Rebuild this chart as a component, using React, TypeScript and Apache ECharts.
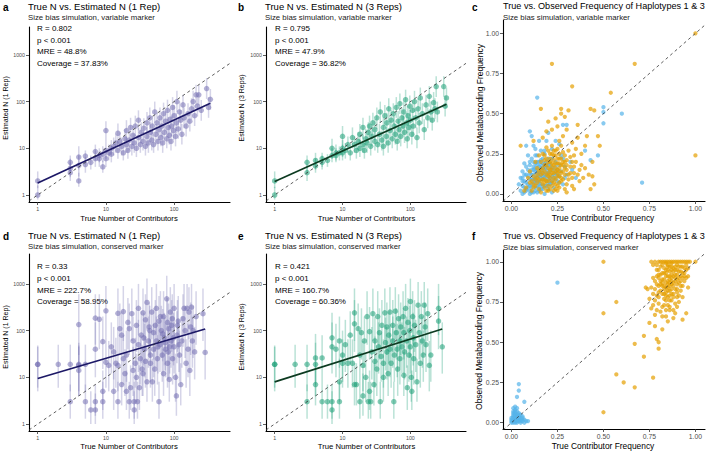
import React, { useEffect, useRef } from "react";
import * as echarts from "echarts";

const FONT = '"Liberation Sans", Arial, Helvetica, sans-serif';

// [true N, estimated N, lower, upper]
const VAR_1REP: number[][] = [
  [1, 2, 1.4, 3.2], [1, 1, 0.8, 1.6], [3, 5, 3, 7], [3, 3.7, 2.4, 6], [3, 3, 2, 5],
  [4, 6.5, 3.5, 11], [4, 4.3, 2.5, 7], [4, 2, 1.5, 3], [5, 6.8, 4.5, 9], [5, 4.5, 3, 6.5],
  [6, 5, 3.5, 7], [7, 8.5, 5.5, 12], [7, 6, 4, 9], [8, 7, 5, 10], [8, 6, 4, 8.5],
  [9, 4, 3, 5.5], [9, 7.5, 5, 11], [10, 24, 14, 38], [10, 9, 6, 14], [10, 6, 4, 9],
  [11, 8, 5.5, 12], [12, 10, 7, 15], [12, 7.5, 5, 11], [13, 11, 7, 17], [14, 13, 8, 20],
  [15, 21, 12, 34], [15, 9, 6, 14], [16, 14, 9, 22], [17, 11, 7, 17], [18, 8, 5.5, 12],
  [19, 16, 10, 26], [20, 24, 14, 40], [20, 12, 8, 18], [21, 9, 6, 14], [22, 15, 9, 25],
  [23, 28, 16, 45], [24, 11, 7, 17], [25, 19, 12, 30], [26, 13, 8, 20], [27, 30, 18, 50],
  [28, 10, 6.5, 15], [30, 40, 24, 65], [30, 17, 11, 27], [32, 12, 8, 19], [33, 22, 13, 36],
  [35, 14, 9, 22], [36, 27, 16, 44], [38, 11, 7, 17], [40, 35, 20, 60], [40, 18, 11, 29],
  [42, 13, 8, 21], [44, 45, 26, 75], [45, 22, 14, 36], [47, 15, 9, 24], [48, 30, 18, 50],
  [50, 12, 8, 19], [52, 60, 35, 100], [54, 20, 12, 33], [56, 35, 21, 58], [58, 14, 9, 22],
  [60, 25, 15, 42], [62, 45, 27, 75], [64, 17, 11, 27], [66, 30, 18, 50], [68, 13, 8, 21],
  [70, 55, 32, 95], [72, 22, 14, 36], [75, 38, 23, 62], [78, 16, 10, 26], [80, 65, 38, 110],
  [82, 28, 17, 46], [85, 19, 12, 31], [88, 42, 25, 70], [90, 14, 9, 22], [92, 30, 18, 50],
  [95, 75, 45, 125], [98, 24, 15, 40], [100, 50, 30, 85], [105, 18, 11, 29], [108, 35, 21, 58],
  [110, 100, 60, 170], [115, 26, 16, 43], [120, 60, 36, 100], [125, 40, 24, 66], [130, 20, 12, 33],
  [135, 85, 50, 140], [140, 45, 27, 75], [150, 30, 18, 50], [160, 55, 33, 92], [170, 38, 23, 63],
  [180, 70, 42, 118], [190, 100, 60, 170], [200, 50, 30, 84], [210, 140, 84, 230], [220, 80, 48, 135],
  [230, 140, 84, 230], [250, 65, 39, 108], [300, 190, 114, 320], [320, 75, 45, 125], [340, 112, 67, 186],
];
const VAR_1REP_FIT: number[][] = [[1, 1.8], [340, 92]];

const VAR_3REP: number[][] = [
  [1, 2, 1.4, 3.2], [1, 1, 0.8, 1.5], [3, 5, 3.2, 7], [3, 3, 2, 4.5], [4, 5.5, 3.5, 8],
  [4, 4.2, 3, 6], [5, 6, 4, 8], [5, 5, 3.5, 7], [6, 5.5, 4, 7.5], [7, 10, 6, 16],
  [7, 7, 5, 10], [8, 7, 5, 10], [8, 8, 5.5, 12], [9, 8, 5.5, 11], [10, 18, 11, 30],
  [10, 10, 6.5, 15], [10, 8, 5.5, 12], [11, 9, 6, 13], [12, 12, 8, 18], [13, 8, 5.5, 12],
  [14, 17, 10, 28], [15, 12, 8, 18], [16, 9, 6, 14], [17, 14, 9, 22], [18, 20, 12, 33],
  [18, 10, 6.5, 15], [20, 12, 8, 19], [20, 28, 16, 45], [21, 9, 6, 13], [22, 16, 10, 26],
  [23, 13, 8, 20], [24, 22, 13, 36], [25, 30, 18, 50], [26, 11, 7, 17], [27, 18, 11, 29],
  [28, 35, 20, 58], [30, 14, 9, 22], [30, 25, 15, 42], [32, 45, 26, 75], [33, 12, 8, 19],
  [35, 20, 12, 33], [36, 60, 35, 100], [38, 15, 9, 24], [40, 28, 17, 46], [40, 11, 7, 17],
  [42, 50, 30, 85], [44, 18, 11, 29], [45, 35, 21, 58], [47, 13, 8, 21], [48, 70, 40, 118],
  [50, 24, 15, 40], [52, 40, 24, 66], [54, 16, 10, 26], [56, 55, 33, 92], [58, 30, 18, 50],
  [60, 20, 12, 33], [62, 75, 45, 125], [64, 14, 9, 22], [66, 38, 23, 63], [68, 25, 15, 42],
  [70, 90, 54, 150], [72, 18, 11, 29], [75, 45, 27, 75], [78, 30, 18, 50], [80, 60, 36, 100],
  [82, 22, 13, 36], [85, 110, 66, 180], [88, 35, 21, 58], [90, 16, 10, 26], [92, 50, 30, 84],
  [95, 28, 17, 46], [98, 80, 48, 135], [100, 40, 24, 66], [105, 20, 12, 33], [108, 65, 39, 108],
  [110, 30, 18, 50], [115, 100, 60, 170], [120, 45, 27, 75], [125, 17, 10, 28], [130, 70, 42, 118],
  [135, 35, 21, 58], [140, 120, 72, 200], [150, 55, 33, 92], [160, 25, 15, 42], [170, 85, 50, 140],
  [180, 45, 27, 75], [190, 130, 78, 215], [200, 60, 36, 100], [210, 40, 24, 66], [220, 95, 57, 160],
  [230, 70, 42, 118], [240, 210, 126, 350], [250, 60, 36, 100], [310, 210, 126, 350], [325, 80, 48, 135],
  [340, 120, 72, 200],
];
const VAR_3REP_FIT: number[][] = [[1, 1.95], [340, 88]];

const CON_1REP: number[][] = [
  [1, 19, 5, 48], [1, 19, 6, 45], [2, 19, 6, 50], [3, 19, 5, 50], [3, 3, 1.3, 7],
  [4, 19, 4, 55], [4, 14, 4, 45], [4, 135, 30, 600], [4, 18, 5, 48], [5, 19, 5, 50],
  [5, 3, 1.3, 7], [6, 2, 1, 5], [7, 2, 1, 4.5], [7, 3, 1.5, 7], [7, 185, 50, 600],
  [7, 40, 10, 150], [8, 175, 40, 600], [9, 58, 15, 200], [9, 5, 2, 14], [9, 3, 1.3, 8],
  [10, 265, 70, 900], [10, 21, 6, 70], [11, 18, 5, 60], [12, 45, 12, 150], [13, 35, 9, 120],
  [13, 5, 2, 14], [14, 20, 6, 70], [15, 235, 60, 800], [15, 3, 1.3, 8], [15, 18, 5, 60],
  [16, 110, 30, 380], [17, 80, 20, 260], [17, 7, 2.5, 20], [18, 255, 60, 900], [18, 25, 7, 80],
  [19, 12, 4, 40], [20, 30, 8, 100], [20, 5, 2, 14], [21, 150, 40, 500], [22, 110, 30, 380],
  [22, 3, 1.3, 8], [23, 6, 2, 18], [24, 230, 60, 800], [25, 14, 4, 45], [25, 60, 15, 200],
  [26, 3, 1.3, 8], [26, 2, 1, 5], [27, 20, 6, 70], [28, 130, 35, 450], [28, 10, 3, 32],
  [29, 3, 1.3, 8], [30, 50, 13, 170], [30, 300, 80, 1000], [31, 6, 2, 18], [32, 25, 7, 80],
  [33, 80, 20, 260], [34, 15, 4, 50], [35, 240, 60, 800], [35, 12, 4, 40], [36, 70, 18, 240],
  [37, 40, 10, 140], [38, 170, 45, 600], [38, 22, 6, 75], [40, 400, 100, 1300], [40, 8, 3, 25],
  [42, 60, 16, 200], [43, 120, 30, 400], [44, 100, 26, 340], [45, 30, 8, 100], [45, 20, 6, 65],
  [47, 250, 65, 850], [48, 8, 3, 25], [50, 90, 24, 300], [50, 40, 10, 140], [52, 15, 4, 50],
  [53, 130, 35, 450], [55, 300, 80, 1000], [55, 60, 16, 200], [57, 25, 7, 80], [58, 45, 12, 150],
  [60, 160, 40, 550], [60, 3, 1.3, 8], [62, 50, 13, 170], [63, 200, 50, 700], [65, 100, 26, 340],
  [67, 30, 8, 100], [68, 85, 22, 290], [70, 200, 50, 700], [70, 12, 4, 40], [72, 70, 18, 240],
  [74, 55, 14, 190], [75, 40, 10, 140], [78, 480, 120, 1500], [80, 150, 40, 500], [80, 20, 6, 65],
  [82, 35, 9, 120], [83, 110, 30, 380], [85, 9, 3, 28], [86, 45, 12, 150], [88, 250, 65, 850],
  [90, 60, 16, 200], [92, 130, 35, 450], [94, 180, 45, 600], [95, 25, 7, 80], [98, 70, 18, 240],
  [100, 45, 12, 150], [100, 300, 80, 1000], [105, 10, 3, 32], [108, 4, 1.5, 12], [110, 80, 20, 260],
  [112, 130, 35, 450], [115, 160, 40, 550], [118, 50, 13, 170], [120, 30, 8, 100], [125, 7, 2.5, 20],
  [130, 60, 16, 200], [135, 180, 45, 600], [140, 300, 80, 1000], [145, 100, 26, 340], [150, 20, 6, 65],
  [155, 300, 80, 1000], [160, 40, 10, 140], [165, 250, 65, 850], [170, 14, 4, 45], [175, 120, 30, 400],
  [180, 320, 80, 1000], [185, 60, 16, 200], [190, 100, 26, 340], [200, 35, 9, 120], [210, 200, 50, 700],
  [265, 230, 60, 800], [285, 34, 9, 110],
];
const CON_1REP_FIT: number[][] = [[1, 9.4], [285, 108]];

const CON_3REP: number[][] = [
  [1, 19, 5, 48], [1, 19, 6, 45], [2, 19, 6, 50], [3, 19, 5, 50], [3, 3, 1.3, 7],
  [4, 19, 4, 55], [4, 26, 7, 85], [4, 7, 2.5, 20], [5, 26, 7, 80], [5, 3, 1.3, 7],
  [6, 3, 1.3, 7], [7, 3, 1.3, 7], [7, 2, 1, 5], [7, 70, 18, 240], [7, 45, 12, 150],
  [8, 40, 10, 140], [9, 8, 3, 25], [9, 3, 1.3, 8], [9, 60, 16, 200], [10, 30, 8, 100],
  [10, 20, 6, 65], [11, 50, 13, 170], [12, 20, 6, 65], [13, 80, 20, 260], [14, 20, 6, 65],
  [15, 240, 60, 800], [15, 140, 35, 450], [15, 7, 2.5, 20], [16, 7, 2.5, 20], [17, 110, 30, 380],
  [18, 3, 1.3, 8], [18, 30, 8, 100], [19, 90, 24, 300], [20, 18, 5, 60], [20, 4, 1.5, 12],
  [21, 60, 16, 200], [22, 10, 3, 32], [23, 200, 50, 700], [24, 3, 1.3, 8], [25, 5, 2, 14],
  [25, 95, 24, 320], [26, 3, 1.3, 8], [27, 35, 9, 120], [28, 230, 60, 800], [29, 7, 2.5, 20],
  [30, 22, 6, 75], [30, 60, 16, 200], [32, 15, 4, 50], [33, 200, 50, 700], [34, 45, 12, 150],
  [35, 90, 24, 300], [36, 3, 1.3, 8], [37, 28, 8, 90], [38, 130, 35, 450], [40, 20, 6, 65],
  [40, 10, 3, 32], [42, 240, 60, 800], [43, 55, 14, 190], [45, 120, 30, 400], [45, 35, 9, 120],
  [47, 12, 4, 40], [48, 80, 20, 260], [50, 40, 10, 140], [50, 250, 65, 850], [52, 20, 6, 65],
  [55, 130, 35, 450], [55, 60, 16, 200], [57, 3, 1.3, 8], [58, 30, 8, 100], [60, 260, 65, 850],
  [62, 90, 24, 300], [64, 40, 10, 140], [65, 15, 4, 50], [67, 180, 45, 600], [70, 60, 16, 200],
  [70, 25, 7, 80], [72, 120, 30, 400], [75, 45, 12, 150], [78, 200, 50, 700], [80, 90, 24, 300],
  [80, 11, 4, 35], [82, 35, 9, 120], [85, 300, 80, 1000], [88, 60, 16, 200], [90, 6, 2, 18],
  [92, 150, 40, 500], [95, 30, 8, 100], [98, 100, 26, 340], [100, 45, 12, 150], [100, 420, 100, 1300],
  [103, 10, 3, 32], [105, 5, 2, 14], [108, 200, 50, 700], [110, 70, 18, 240], [112, 25, 7, 80],
  [115, 130, 35, 450], [120, 50, 13, 170], [125, 8, 3, 25], [130, 350, 90, 1100], [135, 90, 24, 300],
  [140, 20, 6, 65], [145, 200, 50, 700], [150, 60, 16, 200], [155, 30, 8, 100], [160, 350, 90, 1100],
  [165, 120, 30, 400], [170, 50, 13, 170], [180, 230, 60, 800], [190, 18, 5, 60], [200, 30, 8, 100],
  [260, 300, 80, 1000], [260, 160, 40, 550], [295, 45, 12, 150],
];
const CON_3REP_FIT: number[][] = [[1, 8], [295, 108]];

// [true contributor frequency, observed metabarcoding frequency]
const VAR_HAP1: number[][] = [
  [0.14, 0.6], [0.5, 0.54], [0.5, 0.44], [0.6, 0.5], [0.71, 0.07], [0.5, 0.51], [0.28, 0.43], [0.3, 0.43],
  [0.24, 0.33], [0.1, 0.39], [0.11, 0.36], [0.08, 0.3], [0.4, 0.27], [0.43, 0.21], [0.47, 0.24], [0.2, 0.38],
  [0.19, 0.33], [0.26, 0.31], [0.13, 0.28], [0.16, 0.27], [0.05, 0.02], [0.06, 0.05], [0.07, 0.01], [0.07, 0.08],
  [0.08, 0.03], [0.08, 0.12], [0.09, 0.06], [0.09, 0.15], [0.1, 0.02], [0.1, 0.09], [0.1, 0.18], [0.11, 0.04],
  [0.11, 0.12], [0.11, 0.22], [0.12, 0.07], [0.12, 0.15], [0.12, 0.01], [0.13, 0.1], [0.13, 0.19], [0.13, 0.04],
  [0.14, 0.13], [0.14, 0.08], [0.14, 0.24], [0.15, 0.02], [0.15, 0.11], [0.15, 0.17], [0.16, 0.06], [0.16, 0.14],
  [0.16, 0.21], [0.17, 0.09], [0.17, 0.03], [0.17, 0.16], [0.18, 0.12], [0.18, 0.05], [0.18, 0.25], [0.19, 0.08],
  [0.19, 0.18], [0.2, 0.14], [0.2, 0.03], [0.2, 0.22], [0.21, 0.1], [0.21, 0.06], [0.22, 0.16], [0.22, 0.28],
  [0.23, 0.12], [0.23, 0.04], [0.24, 0.2], [0.25, 0.08], [0.25, 0.15], [0.26, 0.11], [0.27, 0.24], [0.28, 0.06],
  [0.29, 0.17], [0.3, 0.12], [0.32, 0.2], [0.05, 0.1], [0.06, 0.14], [0.07, 0.19], [0.09, 0.24], [0.04, 0.06],
  [0.12, 0.3], [0.15, 0.33], [0.18, 0.19], [0.21, 0.19], [0.24, 0.1], [0.13, 0.14], [0.11, 0.09], [0.09, 0.11],
  [0.16, 0.1], [0.19, 0.13], [0.14, 0.18], [0.17, 0.22], [0.1, 0.13], [0.08, 0.07], [0.12, 0.2], [0.2, 0.09],
  [0.15, 0.06], [0.22, 0.07], [0.26, 0.18], [0.33, 0.15], [0.35, 0.1], [0.28, 0.22], [0.06, 0.0], [0.1, 0.0],
  [0.14, 0.01], [0.18, 0.0], [0.22, 0.01], [0.12, 0.12], [0.13, 0.09], [0.14, 0.11], [0.15, 0.13], [0.16, 0.12],
  [0.17, 0.11], [0.18, 0.1], [0.19, 0.11], [0.2, 0.12], [0.14, 0.15], [0.15, 0.08], [0.16, 0.16], [0.17, 0.13],
  [0.18, 0.15], [0.19, 0.16], [0.2, 0.18], [0.21, 0.14], [0.13, 0.07], [0.12, 0.09], [0.11, 0.06], [0.1, 0.05],
  [0.09, 0.04], [0.08, 0.02], [0.07, 0.04], [0.06, 0.08], [0.11, 0.15], [0.12, 0.17], [0.13, 0.16], [0.14, 0.2],
  [0.16, 0.18], [0.15, 0.2], [0.17, 0.19], [0.18, 0.17], [0.19, 0.2], [0.21, 0.17], [0.22, 0.11], [0.23, 0.15],
  [0.24, 0.13], [0.25, 0.12], [0.23, 0.09], [0.21, 0.08], [0.19, 0.05], [0.17, 0.05], [0.15, 0.04], [0.13, 0.02],
  [0.11, 0.01], [0.14, 0.05], [0.16, 0.03], [0.2, 0.06], [0.26, 0.07], [0.27, 0.14], [0.29, 0.1], [0.24, 0.17],
  [0.22, 0.22], [0.18, 0.27], [0.13, 0.24], [0.1, 0.2], [0.08, 0.17], [0.07, 0.12], [0.06, 0.1],
];
const VAR_HAP3: number[][] = [
  [0.22, 0.81], [0.67, 0.81], [0.33, 0.67], [0.54, 0.63], [0.16, 0.53], [1.0, 1.0], [1.0, 0.24], [0.45, 0.52],
  [0.43, 0.53], [0.27, 0.53], [0.31, 0.52], [0.24, 0.47], [0.29, 0.48], [0.27, 0.5], [0.2, 0.45], [0.36, 0.43],
  [0.22, 0.4], [0.3, 0.4], [0.25, 0.42], [0.19, 0.39], [0.05, 0.3], [0.4, 0.3], [0.44, 0.2], [0.45, 0.06],
  [0.43, 0.03], [0.44, 0.11], [0.38, 0.18], [0.34, 0.24], [0.36, 0.35], [0.33, 0.32], [0.41, 0.36], [0.47, 0.36],
  [0.48, 0.3], [0.28, 0.36], [0.17, 0.35], [0.12, 0.33], [0.08, 0.04], [0.1, 0.07], [0.11, 0.02], [0.12, 0.11],
  [0.13, 0.05], [0.14, 0.16], [0.15, 0.09], [0.15, 0.03], [0.16, 0.2], [0.16, 0.12], [0.17, 0.06], [0.17, 0.25],
  [0.18, 0.14], [0.18, 0.09], [0.19, 0.02], [0.19, 0.18], [0.2, 0.11], [0.2, 0.27], [0.2, 0.05], [0.21, 0.15],
  [0.21, 0.22], [0.22, 0.08], [0.22, 0.13], [0.22, 0.3], [0.23, 0.18], [0.23, 0.02], [0.23, 0.1], [0.24, 0.24],
  [0.24, 0.14], [0.24, 0.06], [0.25, 0.19], [0.25, 0.11], [0.25, 0.28], [0.26, 0.16], [0.26, 0.04], [0.26, 0.22],
  [0.27, 0.13], [0.27, 0.08], [0.28, 0.18], [0.28, 0.26], [0.29, 0.12], [0.29, 0.03], [0.3, 0.21], [0.3, 0.15],
  [0.31, 0.09], [0.31, 0.27], [0.32, 0.13], [0.33, 0.05], [0.34, 0.17], [0.35, 0.2], [0.36, 0.12], [0.37, 0.08],
  [0.38, 0.25], [0.4, 0.16], [0.42, 0.12], [0.18, 0.21], [0.2, 0.16], [0.21, 0.12], [0.19, 0.08], [0.23, 0.21],
  [0.25, 0.15], [0.22, 0.19], [0.24, 0.09], [0.26, 0.11], [0.27, 0.18], [0.17, 0.16], [0.16, 0.08], [0.14, 0.1],
  [0.12, 0.06], [0.1, 0.14], [0.13, 0.2], [0.15, 0.24], [0.28, 0.09], [0.3, 0.06], [0.32, 0.23], [0.29, 0.2],
  [0.27, 0.3], [0.23, 0.27], [0.21, 0.03], [0.18, 0.04], [0.16, 0.01], [0.25, 0.02], [0.3, 0.01], [0.34, 0.03],
  [0.09, 0.1], [0.07, 0.02], [0.26, 0.33], [0.19, 0.29], [0.35, 0.28], [0.37, 0.15], [0.39, 0.1], [0.33, 0.1],
  [0.19, 0.12], [0.2, 0.13], [0.21, 0.1], [0.22, 0.15], [0.23, 0.13], [0.24, 0.16], [0.25, 0.13], [0.26, 0.14],
  [0.24, 0.19], [0.23, 0.24], [0.22, 0.17], [0.21, 0.2], [0.2, 0.2], [0.19, 0.22], [0.18, 0.18], [0.17, 0.13],
  [0.16, 0.15], [0.15, 0.14], [0.14, 0.12], [0.13, 0.09], [0.12, 0.04], [0.11, 0.08], [0.14, 0.07], [0.18, 0.07],
  [0.2, 0.08], [0.22, 0.05], [0.24, 0.03], [0.26, 0.07], [0.27, 0.1], [0.28, 0.14], [0.28, 0.2], [0.26, 0.25],
  [0.25, 0.22], [0.23, 0.07], [0.21, 0.25], [0.25, 0.05], [0.27, 0.22], [0.29, 0.16], [0.3, 0.18], [0.31, 0.12],
  [0.29, 0.24], [0.32, 0.17], [0.33, 0.2], [0.34, 0.13], [0.26, 0.19], [0.24, 0.27], [0.22, 0.25], [0.18, 0.24],
  [0.17, 0.09], [0.2, 0.02],
];

const CON_HAP1: number[][] = [
  [0.25, 0.87], [0.04, 0.24], [0.04, 0.2], [0.03, 0.16], [0.07, 0.13], [0.02, 0.1], [0.01, 0.09], [0.02, 0.08],
  [0.03, 0.07], [0.01, 0.06], [0.02, 0.05], [0.03, 0.05], [0.04, 0.04], [0.01, 0.04], [0.02, 0.03], [0.03, 0.03],
  [0.05, 0.03], [0.06, 0.02], [0.07, 0.02], [0.01, 0.02], [0.02, 0.02], [0.04, 0.02], [0.05, 0.01], [0.06, 0.01],
  [0.08, 0.01], [0.03, 0.01], [0.01, 0.01], [0.02, 0.0], [0.03, 0.0], [0.0, 0.0], [0.0, 0.03], [0.01, 0.07],
  [0.02, 0.06], [0.04, 0.06], [0.05, 0.05], [0.03, 0.04], [0.06, 0.04], [0.04, 0.01], [0.07, 0.0], [0.05, 0.0],
  [0.09, 0.01], [0.02, 0.01], [0.0, 0.02], [0.01, 0.0], [0.04, 0.03], [0.01, 0.03], [0.02, 0.04], [0.03, 0.02],
  [0.05, 0.02], [0.06, 0.03], [0.02, 0.07], [0.03, 0.09], [0.01, 0.05], [0.04, 0.05], [0.0, 0.01],
];
const CON_HAP3: number[][] = [
  [0.5, 1.0], [0.5, 0.68], [0.57, 0.75], [0.5, 0.065], [0.57, 0.3], [0.61, 0.25], [0.67, 0.22], [0.67, 0.49],
  [0.72, 0.41], [0.72, 0.54], [0.77, 0.28], [0.75, 0.62], [0.78, 0.6], [0.8, 0.5], [0.8, 0.46], [0.79, 0.52],
  [0.82, 0.58], [0.85, 0.63], [0.93, 0.64], [0.95, 0.68], [1.0, 1.0], [0.96, 0.84], [0.77, 0.73], [0.76, 0.71],
  [0.74, 0.83], [0.73, 0.84], [0.75, 0.77], [0.81, 0.69], [0.84, 0.66], [0.88, 0.7], [0.9, 0.72], [0.78, 0.67],
  [0.76, 1.0], [0.77, 0.98], [0.78, 1.0], [0.8, 1.0], [0.82, 1.0], [0.84, 1.0], [0.86, 1.0], [0.88, 1.0],
  [0.9, 1.0], [0.92, 1.0], [0.94, 1.0], [0.96, 1.0], [0.83, 1.0], [0.87, 1.0], [0.91, 1.0], [0.79, 0.95],
  [0.8, 0.9], [0.81, 0.97], [0.82, 0.85], [0.82, 0.93], [0.83, 0.8], [0.83, 0.89], [0.84, 0.95], [0.84, 0.84],
  [0.85, 0.78], [0.85, 0.91], [0.85, 0.98], [0.86, 0.87], [0.86, 0.82], [0.86, 0.94], [0.87, 0.76], [0.87, 0.9],
  [0.88, 0.85], [0.88, 0.96], [0.88, 0.8], [0.89, 0.92], [0.89, 0.88], [0.89, 0.74], [0.9, 0.83], [0.9, 0.95],
  [0.91, 0.87], [0.91, 0.79], [0.92, 0.91], [0.92, 0.97], [0.93, 0.85], [0.93, 0.93], [0.94, 0.88], [0.95, 0.95],
  [0.96, 0.91], [0.81, 0.82], [0.8, 0.78], [0.79, 0.86], [0.78, 0.83], [0.77, 0.9], [0.76, 0.84], [0.8, 0.74],
  [0.82, 0.72], [0.84, 0.76], [0.86, 0.7], [0.83, 0.93], [0.85, 0.86], [0.87, 0.95], [0.84, 0.91], [0.86, 0.97],
  [0.88, 0.91], [0.9, 0.89], [0.87, 0.83], [0.89, 0.97], [0.91, 0.94], [0.82, 0.89], [0.85, 0.82], [0.83, 0.85],
  [0.79, 0.79], [0.81, 0.88], [0.84, 0.99], [0.92, 0.82], [0.94, 0.93], [0.95, 0.9], [0.93, 0.78], [0.78, 0.76],
  [0.88, 0.65], [0.91, 0.75], [0.85, 0.73], [0.8, 0.81], [0.83, 0.77], [0.86, 0.79], [0.87, 0.88], [0.89, 0.83],
  [0.9, 0.78], [0.81, 0.92], [0.8, 0.95], [0.82, 0.98], [0.86, 0.91], [0.88, 0.87], [0.84, 0.87], [0.79, 0.91],
  [0.85, 0.95], [0.87, 0.99], [0.9, 0.92], [0.92, 0.88], [0.93, 0.97], [0.94, 0.96], [0.84, 0.93], [0.85, 0.88],
  [0.86, 0.85], [0.87, 0.92], [0.88, 0.94], [0.89, 0.9], [0.9, 0.86], [0.91, 0.9], [0.86, 0.89], [0.87, 0.86],
  [0.85, 0.84], [0.84, 0.81], [0.83, 0.83], [0.82, 0.87], [0.83, 0.96], [0.85, 0.97], [0.87, 0.97], [0.89, 0.95],
  [0.9, 0.98], [0.91, 0.97], [0.92, 0.94], [0.93, 0.9], [0.94, 0.91], [0.8, 0.85], [0.81, 0.86], [0.82, 0.8],
  [0.83, 0.73], [0.84, 0.79], [0.86, 0.76], [0.88, 0.78], [0.9, 0.81], [0.92, 0.85], [0.95, 0.98], [0.96, 0.96],
  [0.97, 1.0], [0.79, 0.98], [0.81, 1.0], [0.85, 1.0], [0.89, 1.0], [0.93, 1.0], [0.95, 1.0], [0.8, 0.92],
  [0.78, 0.88], [0.77, 0.8], [0.79, 0.7], [0.82, 0.66], [0.86, 0.72], [0.89, 0.68], [0.84, 0.7], [0.87, 0.8],
];

const LOG_TICKS = [1, 10, 100, 1000];
const N_TICKS = [1, 10, 100];
const FREQ_TICKS = [0, 0.25, 0.5, 0.75, 1];

const STATS_VAR_1 = ["R = 0.802", "p < 0.001", "MRE = 48.8%", "Coverage = 37.83%"];
const STATS_VAR_3 = ["R = 0.795", "p < 0.001", "MRE = 47.9%", "Coverage = 36.82%"];
const STATS_CON_1 = ["R = 0.33", "p < 0.001", "MRE = 222.7%", "Coverage = 58.95%"];
const STATS_CON_3 = ["R = 0.421", "p < 0.001", "MRE = 160.7%", "Coverage = 60.36%"];

const PURPLE = "#7570b3";
const PURPLE_FIT = "#1c1866";
const GREEN = "#1b9e77";
const GREEN_FIT = "#0c3a20";
const SKY = "#56b4e9";
const ORANGE = "#e69f00";

const X_LOG_MIN = 0.745;
const X_LOG_MAX = 660;
const Y_LOG_MIN = 0.708;

const grids = [
  { left: 29, top: 27, width: 201, height: 175 },
  { left: 266, top: 27, width: 200, height: 175 },
  { left: 503, top: 20, width: 202, height: 181 },
  { left: 29, top: 254, width: 201, height: 177 },
  { left: 266, top: 254, width: 200, height: 177 },
  { left: 503, top: 250, width: 202, height: 179 },
];

const axisLine = { show: true, onZero: false, lineStyle: { color: "#000", width: 1.1 } };

function logAxis(gridIndex: number, min: number, max: number, ticks: number[]) {
  return {
    type: "log",
    logBase: 10,
    gridIndex,
    min,
    max,
    axisLine,
    axisTick: { show: true, length: 3, customValues: ticks, lineStyle: { color: "#333", width: 0.8 } },
    axisLabel: {
      customValues: ticks,
      fontSize: 5.3,
      color: "#4d4d4d",
      fontFamily: FONT,
      margin: 4,
      formatter: (v: number) => String(Math.round(v)),
    },
    splitLine: { show: false },
    minorTick: { show: false },
  };
}

function freqAxis(gridIndex: number, min: number, max: number) {
  return {
    type: "value",
    gridIndex,
    min,
    max,
    axisLine,
    axisTick: { show: true, length: 3, customValues: FREQ_TICKS, lineStyle: { color: "#333", width: 0.8 } },
    axisLabel: {
      customValues: FREQ_TICKS,
      fontSize: 6.8,
      color: "#4d4d4d",
      fontFamily: FONT,
      margin: 4,
      formatter: (v: number) => v.toFixed(2),
    },
    splitLine: { show: false },
  };
}

function errorBars(idx: number, data: number[][], color: string) {
  return {
    type: "custom",
    xAxisIndex: idx,
    yAxisIndex: idx,
    data,
    encode: { x: 0, y: 1 },
    silent: true,
    clip: true,
    z: 1,
    renderItem: (_p: any, api: any) => {
      const x = api.value(0);
      const a = api.coord([x, api.value(2)]);
      const b = api.coord([x, api.value(3)]);
      return {
        type: "line",
        shape: { x1: a[0], y1: a[1], x2: b[0], y2: b[1] },
        style: { stroke: color, lineWidth: 1.5, opacity: 0.3 },
      };
    },
  };
}

function points(idx: number, data: number[][], color: string, size: number, opacity: number) {
  return {
    type: "scatter",
    xAxisIndex: idx,
    yAxisIndex: idx,
    data: data.map((d) => [d[0], d[1]]),
    symbolSize: size,
    itemStyle: { color, opacity },
    silent: true,
    z: 2,
  };
}

function fitLine(idx: number, data: number[][], color: string) {
  return {
    type: "line",
    xAxisIndex: idx,
    yAxisIndex: idx,
    data,
    symbol: "none",
    lineStyle: { color, width: 1.7 },
    silent: true,
    z: 3,
  };
}

function identity(idx: number, lo: number, hi: number) {
  return {
    type: "line",
    xAxisIndex: idx,
    yAxisIndex: idx,
    data: [[lo, lo], [hi, hi]],
    symbol: "none",
    lineStyle: { color: "#333", width: 0.8, type: [3, 3] },
    silent: true,
    z: 4,
  };
}

function txt(text: string, x: number, y: number, size: number, extra: any = {}) {
  return {
    type: "text",
    x,
    y,
    rotation: extra.rotation || 0,
    style: {
      text,
      fontSize: size,
      fontFamily: FONT,
      fontWeight: extra.bold ? "bold" : "normal",
      fill: extra.fill || "#000",
      align: extra.align || "left",
      verticalAlign: "middle",
    },
    silent: true,
  };
}

function buildGraphics() {
  const g: any[] = [];
  const letters: [string, number, number][] = [
    ["a", 3, 7], ["b", 238, 7], ["c", 472, 7], ["d", 3, 236], ["e", 238, 236], ["f", 472, 236],
  ];
  letters.forEach(([t, x, y]) => g.push(txt(t, x, y, 10, { bold: true })));

  const heads: [string, string, number, number, number][] = [
    ["True N vs. Estimated N (1 Rep)", "Size bias simulation, variable marker", 28, 6, 9.5],
    ["True N vs. Estimated N (3 Reps)", "Size bias simulation, variable marker", 265, 6, 9.5],
    ["True vs. Observed Frequency of Haplotypes 1 & 3", "Size bias simulation, variable marker", 503, 6, 9.1],
    ["True N vs. Estimated N (1 Rep)", "Size bias simulation, conserved marker", 28, 235, 9.5],
    ["True N vs. Estimated N (3 Reps)", "Size bias simulation, conserved marker", 265, 235, 9.5],
    ["True vs. Observed Frequency of Haplotypes 1 & 3", "Size bias simulation, conserved marker", 503, 236, 9.1],
  ];
  heads.forEach(([t, s, x, y, size]) => {
    g.push(txt(t, x, y, size));
    g.push(txt(s, x, y + 11.3, 7.8, { fill: "#222" }));
  });

  const stats: [string[], number, number][] = [
    [STATS_VAR_1, 37, 28.5], [STATS_VAR_3, 275, 28.5], [STATS_CON_1, 37, 266.7], [STATS_CON_3, 275, 266.7],
  ];
  stats.forEach(([lines, x, y]) => lines.forEach((l, i) => g.push(txt(l, x, y + i * 11.7, 8))));

  const xTitles: [string, number, number, number][] = [
    ["True Number of Contributors", 129, 218, 7.7],
    ["True Number of Contributors", 366.5, 218, 7.7],
    ["True Contributor Frequency", 603, 218, 8.4],
    ["True Number of Contributors", 129, 446.5, 7.7],
    ["True Number of Contributors", 366.5, 446.5, 7.7],
    ["True Contributor Frequency", 603, 446, 8.4],
  ];
  xTitles.forEach(([t, x, y, s]) => g.push(txt(t, x, y, s, { align: "center" })));

  const yTitles: [string, number, number, number][] = [
    ["Estimated N (1 Rep)", 5.5, 108, 7],
    ["Estimated N (3 Reps)", 241, 108, 7],
    ["Observed Metabarcoding Frequency", 480, 113, 8.5],
    ["Estimated N (1 Rep)", 5.5, 337, 7],
    ["Estimated N (3 Reps)", 241, 337, 7],
    ["Observed Metabarcoding Frequency", 478.5, 341, 8.5],
  ];
  yTitles.forEach(([t, x, y, s]) => g.push(txt(t, x, y, s, { align: "center", rotation: Math.PI / 2 })));
  return g;
}

export default function App() {
  const ref = useRef<HTMLDivElement>(null);

  useEffect(() => {
    if (!ref.current) return;
    const chart = echarts.init(ref.current, undefined, { renderer: "svg" });

    const xAxis = [
      logAxis(0, X_LOG_MIN, X_LOG_MAX, N_TICKS),
      logAxis(1, X_LOG_MIN, X_LOG_MAX, N_TICKS),
      freqAxis(2, -0.046, 1.052),
      logAxis(3, X_LOG_MIN, X_LOG_MAX, N_TICKS),
      logAxis(4, X_LOG_MIN, X_LOG_MAX, N_TICKS),
      freqAxis(5, -0.046, 1.052),
    ];
    const yAxis = [
      logAxis(0, Y_LOG_MIN, 3960, LOG_TICKS),
      logAxis(1, Y_LOG_MIN, 3960, LOG_TICKS),
      freqAxis(2, -0.044, 1.083),
      logAxis(3, Y_LOG_MIN, 4370, LOG_TICKS),
      logAxis(4, Y_LOG_MIN, 4370, LOG_TICKS),
      freqAxis(5, -0.039, 1.073),
    ];

    const series: any[] = [
      errorBars(0, VAR_1REP, PURPLE), points(0, VAR_1REP, PURPLE, 5.5, 0.55),
      fitLine(0, VAR_1REP_FIT, PURPLE_FIT), identity(0, X_LOG_MIN, X_LOG_MAX),
      errorBars(1, VAR_3REP, GREEN), points(1, VAR_3REP, GREEN, 5.5, 0.55),
      fitLine(1, VAR_3REP_FIT, GREEN_FIT), identity(1, X_LOG_MIN, X_LOG_MAX),
      points(2, VAR_HAP1, SKY, 4.3, 0.7), points(2, VAR_HAP3, ORANGE, 4.3, 0.7), identity(2, -0.046, 1.052),
      errorBars(3, CON_1REP, PURPLE), points(3, CON_1REP, PURPLE, 5.5, 0.55),
      fitLine(3, CON_1REP_FIT, PURPLE_FIT), identity(3, X_LOG_MIN, X_LOG_MAX),
      errorBars(4, CON_3REP, GREEN), points(4, CON_3REP, GREEN, 5.5, 0.55),
      fitLine(4, CON_3REP_FIT, GREEN_FIT), identity(4, X_LOG_MIN, X_LOG_MAX),
      points(5, CON_HAP1, SKY, 4.3, 0.7), points(5, CON_HAP3, ORANGE, 4.3, 0.7), identity(5, -0.046, 1.052),
    ];

    chart.setOption({
      animation: false,
      backgroundColor: "#fff",
      grid: grids,
      xAxis,
      yAxis,
      series,
      graphic: buildGraphics(),
    });
    return () => chart.dispose();
  }, []);

  return (
    <div
      ref={ref}
      style={{ position: "fixed", left: 0, top: 0, width: 709, height: 452, background: "#fff" }}
    />
  );
}
